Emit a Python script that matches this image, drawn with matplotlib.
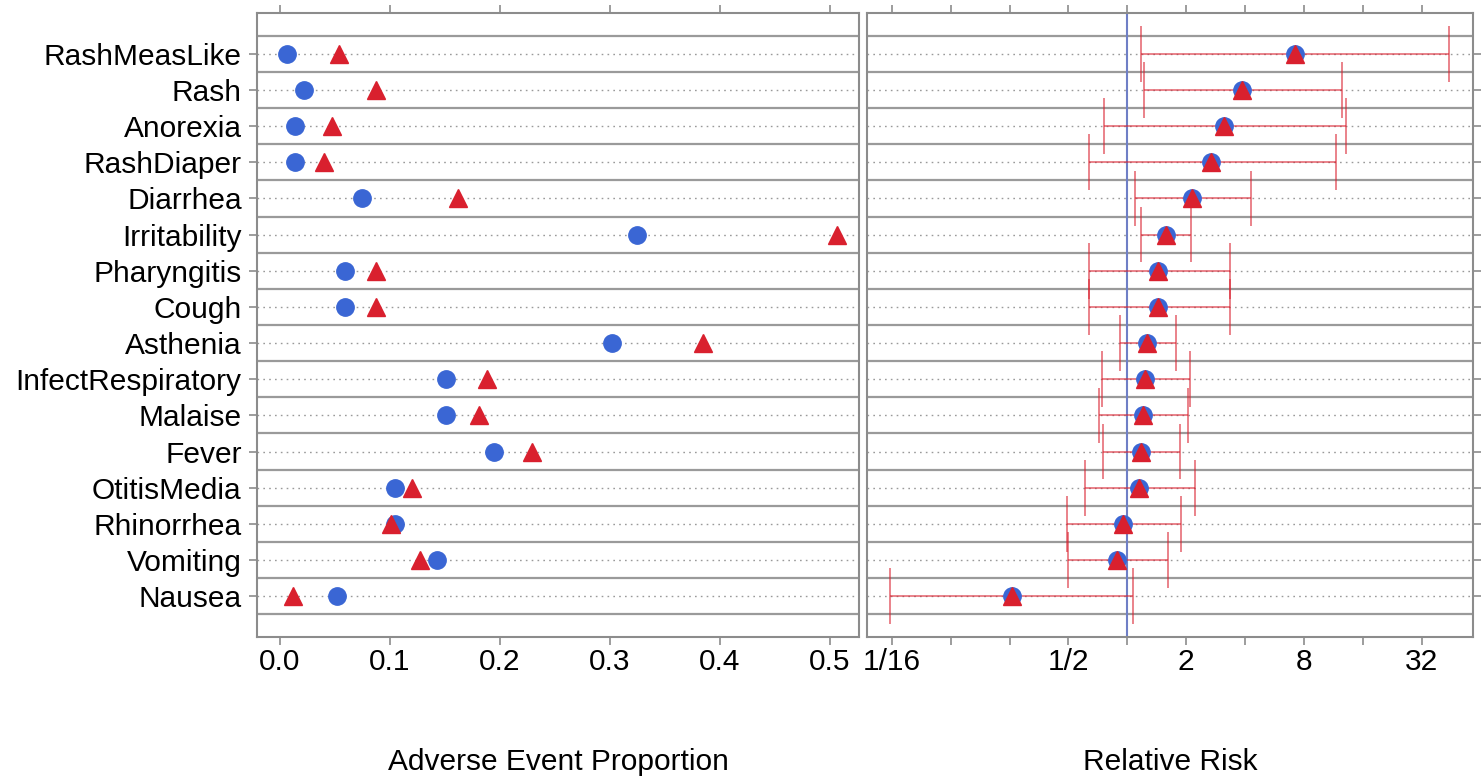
import matplotlib.pyplot as plt
import numpy as np

plt.rcParams['font.family'] = ['Liberation Sans', 'DejaVu Sans']

events = ["RashMeasLike", "Rash", "Anorexia", "RashDiaper", "Diarrhea",
          "Irritability", "Pharyngitis", "Cough", "Asthenia",
          "InfectRespiratory", "Malaise", "Fever", "OtitisMedia",
          "Rhinorrhea", "Vomiting", "Nausea"]

# proportions, blue group (circles) and red group (triangles)
prop_blue = [0.006, 0.022, 0.014, 0.014, 0.075, 0.325, 0.059, 0.059,
             0.302, 0.151, 0.151, 0.195, 0.105, 0.105, 0.143, 0.052]
prop_red = [0.054, 0.087, 0.047, 0.040, 0.162, 0.506, 0.087, 0.087,
            0.385, 0.188, 0.181, 0.229, 0.120, 0.101, 0.127, 0.012]

# relative risk with lower / upper confidence limits
rr = [7.16, 3.87, 3.11, 2.68, 2.14, 1.57, 1.44, 1.44,
      1.26, 1.23, 1.21, 1.17, 1.15, 0.95, 0.89, 0.257]
rr_low = [1.18, 1.22, 0.76, 0.64, 1.09, 1.17, 0.64, 0.64,
          0.915, 0.74, 0.72, 0.75, 0.61, 0.49, 0.50, 0.061]
rr_high = [44.3, 12.5, 13.1, 11.6, 4.31, 2.12, 3.33, 3.33,
           1.78, 2.10, 2.04, 1.85, 2.21, 1.89, 1.62, 1.07]

prop_ticks = [0.0, 0.1, 0.2, 0.3, 0.4, 0.5]
prop_ticklabels = ["0.0", "0.1", "0.2", "0.3", "0.4", "0.5"]
rr_ticks = [1/16, 1/8, 1/4, 1/2, 1, 2, 4, 8, 16, 32]
rr_ticklabels = ["1/16", "", "", "1/2", "", "2", "", "8", "", "32"]

BLUE = "#3a66d4"
RED = "#d9202e"
GRID = "#9a9a9a"
FS = 21.5


def setup_rows(ax, n):
    # solid band edges and dotted centre lines
    for k in range(n + 1):
        ax.axhline(k - 0.5, color=GRID, lw=1.6, zorder=1)
    for k in range(n):
        ax.axhline(k, color=GRID, lw=1.0, linestyle=(0, (1.2, 3)), zorder=1)
    ax.set_ylim(n - 1 + 1.13, -1.13)
    for s in ax.spines.values():
        s.set_color("#8c8c8c")
        s.set_linewidth(1.5)
    ax.tick_params(axis='both', colors="#8c8c8c", length=6, width=1.2,
                   labelcolor="black", labelsize=FS)


fig = plt.figure(figsize=(14.84, 7.79), dpi=100)
ax1 = fig.add_axes([257/1484, 1 - 637/779, 602/1484, 624/779])
ax2 = fig.add_axes([867/1484, 1 - 637/779, 606/1484, 624/779])

n = len(events)
y = np.arange(n)

# left panel: proportions
setup_rows(ax1, n)
ax1.plot(prop_blue, y, 'o', color=BLUE, ms=12.5, mec=BLUE, zorder=3)
ax1.plot(prop_red, y, '^', color=RED, ms=12.5, mec=RED, zorder=3)
ax1.set_xlim(-0.0209, 0.5264)
ax1.set_xticks(prop_ticks)
ax1.set_xticklabels(prop_ticklabels)
ax1.set_yticks(y)
ax1.set_yticklabels(events)
ax1.tick_params(axis='x', top=True, pad=2)
ax1.tick_params(axis='y', pad=5)

# right panel: relative risk
setup_rows(ax2, n)
ax2.set_xscale('log', base=2)
ax2.axvline(1, color="#6f7fc6", lw=1.5, zorder=2)
ax2.hlines(y, rr_low, rr_high, color=RED, alpha=0.6, lw=1.3, zorder=2)
ax2.vlines(rr_low, y - 0.77, y + 0.77, color=RED, alpha=0.6, lw=1.3, zorder=2)
ax2.vlines(rr_high, y - 0.77, y + 0.77, color=RED, alpha=0.6, lw=1.3, zorder=2)
ax2.plot(rr, y, 'o', color=BLUE, ms=12.5, mec=BLUE, zorder=3)
ax2.plot(rr, y, '^', color=RED, ms=12.5, mec=RED, zorder=4)
ax2.set_xlim(2**-4.42, 2**5.87)
ax2.set_xticks(rr_ticks)
ax2.set_xticklabels(rr_ticklabels)
ax2.minorticks_off()
ax2.set_yticks(y)
ax2.set_yticklabels([])
ax2.tick_params(axis='y', left=False, right=True)
ax2.tick_params(axis='x', top=True, pad=2)

fig.text(558/1484, 1 - 762/779, "Adverse Event Proportion", ha='center',
         va='center', fontsize=FS)
fig.text(1170/1484, 1 - 762/779, "Relative Risk", ha='center',
         va='center', fontsize=FS)

plt.savefig("out.png", dpi=100)
